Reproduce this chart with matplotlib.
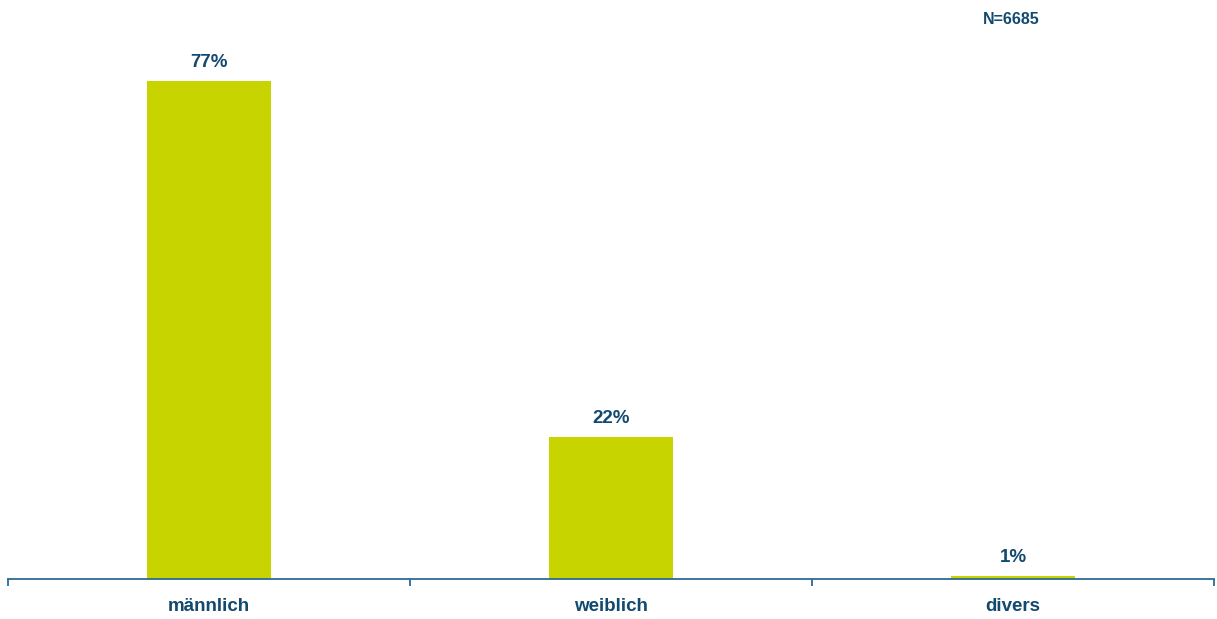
import numpy as np
import matplotlib.pyplot as plt

kategorien = ['männlich', 'weiblich', 'divers']
anteile = [77, 22, 0.5]
beschriftung = ['77%', '22%', '1%']
n_text = 'N=6685'

blau = '#12496f'
gruen = '#c8d400'

plt.rcParams['font.family'] = ['Liberation Sans', 'DejaVu Sans']

fig = plt.figure(figsize=(12.17, 6.19), dpi=100)
ax = fig.add_axes([8 / 1217, 40 / 619, 1206 / 1217, 579 / 619])

x = np.arange(len(kategorien))
balken = ax.bar(x, anteile, width=0.31, color=gruen)

for b, t in zip(balken, beschriftung):
    ax.annotate(t, (b.get_x() + b.get_width() / 2, b.get_height()),
                xytext=(0, 7), textcoords='offset points',
                ha='center', va='bottom', fontsize=13.5, fontweight='bold', color=blau)

ax.set_xlim(-0.5, len(kategorien) - 0.5)
ax.set_ylim(0, 89.5)
ax.set_yticks([])
for s in ['top', 'right', 'left']:
    ax.spines[s].set_visible(False)
ax.spines['bottom'].set_color('#2e6a96')
ax.spines['bottom'].set_linewidth(1.3)

ax.set_xticks(np.arange(len(kategorien) + 1) - 0.5, minor=False)
ax.set_xticklabels([])
ax.tick_params(axis='x', which='major', length=5, color='#2e6a96', width=1.3)
ax.set_xticks(x, minor=True)
ax.set_xticklabels(kategorien, minor=True, fontsize=13.5, fontweight='bold', color=blau)
ax.tick_params(axis='x', which='minor', length=0, pad=14)

fig.text(1011 / 1217, 1 - 20 / 619, n_text, ha='center', va='center',
         fontsize=11.5, fontweight='bold', color=blau)

fig.savefig('out.png', dpi=100)
